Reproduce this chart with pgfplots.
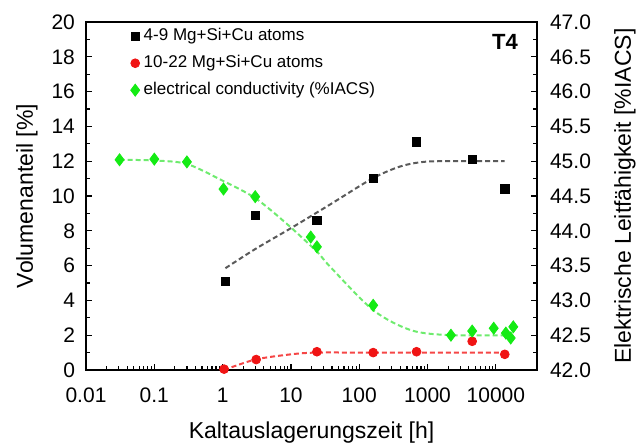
\documentclass[border=0pt]{standalone}
\usepackage{pgfplots}
\pgfplotsset{compat=1.18}
\usepackage{fontspec}
\setmainfont{Liberation Sans}
\definecolor{cgreen}{RGB}{20,235,20}
\definecolor{cgreenfit}{RGB}{110,235,110}
\definecolor{cred}{RGB}{240,20,20}
\definecolor{credfit}{RGB}{245,70,70}
\definecolor{cgrayfit}{RGB}{90,90,90}
\begin{document}
\begin{tikzpicture}
\useasboundingbox (-43pt,-37pt) rectangle (276.5pt,185pt);
\begin{axis}[
  at={(0,0)}, anchor=south west,
  scale only axis, width=225.5pt, height=174pt,
  xmode=log, xmin=0.01, xmax=40000,
  ymin=0, ymax=20,
  xtick={0.01,0.1,1,10,100,1000,10000},
  xticklabels={0.01,0.1,1,10,100,1000,10000},
  ytick={0,2,4,6,8,10,12,14,16,18,20}, minor y tick num=1,
  tick pos=left, tick align=inside,
  major tick length=3pt, minor tick length=1.8pt,
  tick style={black, line width=0.6pt},
  axis line style={line width=0.7pt},
  /pgf/number format/assume math mode=true,
  tick label style={font=\fontsize{10.5}{12}\selectfont},
  xticklabel style={yshift=-5.5pt},
  yticklabel style={xshift=-2pt},
  xlabel={Kaltauslagerungszeit [h]},
  ylabel={Volumenanteil [\%]},
  label style={font=\fontsize{11.5}{13}\selectfont},
  xlabel style={at={(axis description cs:0.5,-0.18)}, anchor=center},
  ylabel style={at={(axis description cs:-0.1308,0.5)}, anchor=center},
  legend style={at={(0.085,1.005)}, anchor=north west, draw=none, fill=none,
    font=\fontsize{8.5}{9.5}\selectfont, row sep=1.8pt},
  legend cell align=left,
  legend image code/.code={\draw[mark repeat=2,mark phase=2,#1] plot coordinates {(0pt,0pt) (4pt,0pt) (8pt,0pt)};},
]
% fit lines
\addplot[forget plot, no marks, smooth, cgrayfit, line width=1pt, dash pattern=on 2.5pt off 1.5pt]
  coordinates {(1.1,5.85) (3,6.95) (10,8.15) (37,9.5) (155,11.0) (400,11.7) (930,11.97) (3000,12.0) (13400,12.0)};
\addplot[forget plot, no marks, smooth, credfit, line width=1pt, dash pattern=on 2.5pt off 1.5pt]
  coordinates {(1.05,0.0) (3,0.6) (10,0.9) (24,1.0) (160,1.0) (13500,1.0)};
% data
\addplot[only marks, mark=square*, mark size=2.1pt, black]
  coordinates {(1.1,5.1) (3,8.9) (24,8.6) (160,11.0) (690,13.1) (4500,12.1) (13500,10.4)};
\addlegendentry{4-9 Mg+Si+Cu atoms}
\addplot[only marks, mark=*, mark size=2.2pt, cred]
  coordinates {(1.05,0.05) (3.1,0.6) (24,1.05) (160,1.0) (690,1.05) (4500,1.65) (13500,0.9)};
\addlegendentry{10-22 Mg+Si+Cu atoms}
\addlegendimage{only marks, mark=diamond*, mark size=3pt, cgreen}
\addlegendentry{electrical conductivity (\%IACS)}
\node[font=\bfseries\fontsize{11}{12}\selectfont] at (rel axis cs:0.929,0.943) {T4};
\end{axis}
\begin{axis}[
  at={(0,0)}, anchor=south west,
  scale only axis, width=225.5pt, height=174pt,
  xmode=log, xmin=0.01, xmax=40000,
  ymin=42, ymax=47,
  axis y line*=right, axis x line=none,
  ytick={42,42.5,43,43.5,44,44.5,45,45.5,46,46.5,47}, minor y tick num=1,
  tick align=inside,
  major tick length=3pt, minor tick length=1.8pt,
  tick style={black, line width=0.6pt},
  axis line style={line width=0.7pt},
  /pgf/number format/assume math mode=true,
  y tick label style={font=\fontsize{10.5}{12}\selectfont, xshift=3pt,
    /pgf/number format/.cd, fixed, fixed zerofill, precision=1},
  ylabel={Elektrische Leitfähigkeit [\%IACS]},
  label style={font=\fontsize{11.5}{13}\selectfont},
  ylabel style={at={(axis description cs:1.195,0.5)}, anchor=center},
]
\addplot[no marks, smooth, cgreenfit, line width=1pt, dash pattern=on 2.5pt off 1.5pt]
  coordinates {(0.031,45.02) (0.1,45.01) (0.3,44.96) (1,44.72) (3,44.47) (8.7,44.1) (24,43.7) (37,43.49) (160,42.86) (580,42.57) (2200,42.5) (15000,42.5)};
\addplot[only marks, mark=diamond*, mark size=3pt, cgreen]
  coordinates {(0.031,45.02) (0.1,45.03) (0.3,44.99) (1.03,44.6) (3,44.49) (19.5,43.91) (24,43.77) (160,42.93) (2200,42.5) (4500,42.56) (9300,42.6) (14000,42.53) (16500,42.46) (18000,42.62)};
\end{axis}
\end{tikzpicture}
\end{document}
